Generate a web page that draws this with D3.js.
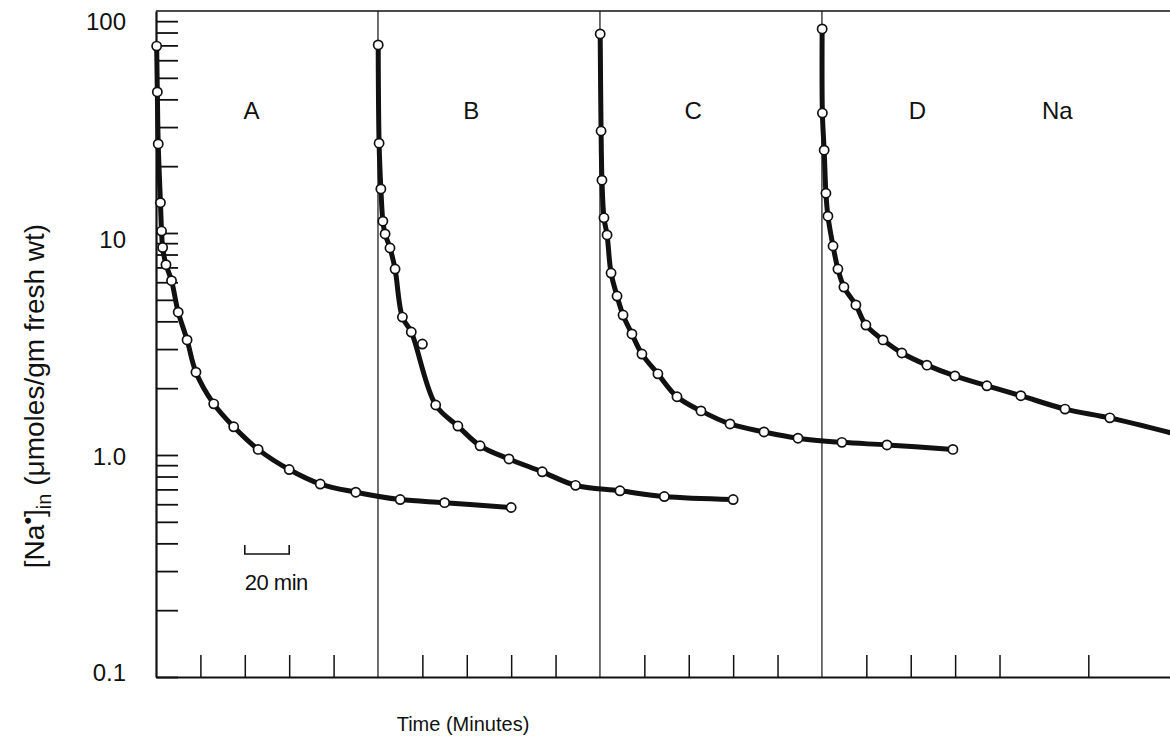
<!DOCTYPE html>
<html>
<head>
<meta charset="utf-8">
<script src="https://cdn.jsdelivr.net/npm/d3@7"></script>
<style>
  body { margin: 0; background: #fff; }
  svg { display: block; }
  text { font-family: "Liberation Sans", Arial, Helvetica, sans-serif; fill: #111; }
</style>
</head>
<body>
<svg id="chart" width="1170" height="744"></svg>
<script>
// Efflux of labelled sodium from tissue: four successive washout runs (A–D),
// internal Na• content on a log scale against time in minutes.

// ---- data -------------------------------------------------------------
const timeA = [0.3, 0.6, 1.0, 2, 2.5, 3, 4.5, 7, 10, 14, 18, 26, 35, 46, 60, 74, 90, 110, 130, 160];
const naA   = [69.5, 43.2, 25.2, 13.7, 10.2, 8.6, 7.2, 6.1, 4.4, 3.3, 2.36, 1.70, 1.34, 1.06, 0.86, 0.74, 0.68, 0.63, 0.61, 0.58];

const timeB = [100.1, 100.5, 101.3, 102.2, 103.2, 105.4, 107.7, 111, 115, 126, 136, 146, 159, 174, 189, 209, 229, 260];
const naB   = [70.3, 25.4, 15.8, 11.3, 9.9, 8.56, 6.88, 4.18, 3.58, 1.68, 1.35, 1.10, 0.96, 0.84, 0.73, 0.69, 0.65, 0.63];
// single reading in run B lying off the fitted curve
const offTimeB = [120];
const offNaB   = [3.16];

const timeC = [200.1, 200.5, 200.9, 201.8, 203.2, 205, 207.7, 210.4, 214.4, 218.9, 226.1, 234.7, 245.5, 258.6, 273.9, 289.2, 309, 329.3, 359];
const naC   = [78.8, 28.8, 17.3, 11.7, 9.8, 6.6, 5.2, 4.27, 3.51, 2.85, 2.32, 1.83, 1.58, 1.38, 1.27, 1.19, 1.14, 1.11, 1.06];

const timeD = [300.1, 300.2, 301, 301.8, 302.7, 305, 307.2, 309.9, 315.3, 319.8, 327.5, 336, 347.3, 359.9, 374.3, 389.6, 409.5, 429.7];
const naD   = [83.0, 34.7, 23.6, 15.1, 11.9, 8.74, 6.88, 5.71, 4.74, 3.85, 3.30, 2.88, 2.54, 2.27, 2.05, 1.85, 1.61, 1.47];
// fitted curve of run D carries on past its last reading
const tailTimeD = [457];
const tailNaD   = [1.26];

const runLabels   = ["A", "B", "C", "D", "Na"];
const yTickLabels = ["100", "10", "1.0", "0.1"];
const yTickValues = [100, 10, 1, 0.1];
const runStarts   = [100, 200, 300];   // minutes at which a new run begins
const scaleBarMinutes = 20;

// ---- layout -------------------------------------------------------------
const svg = d3.select("#chart");
const plotLeft = 156, plotRight = 1170, plotTop = 11, plotBottom = 677;
const x = d3.scaleLinear().domain([0, 456.8]).range([plotLeft, plotRight]);
const y = d3.scaleLog().domain([0.1, 100]).range([plotBottom, plotTop]);

// frame: top rule
svg.append("line")
  .attr("x1", plotLeft).attr("x2", plotRight).attr("y1", plotTop).attr("y2", plotTop)
  .attr("stroke", "#111").attr("stroke-width", 1.6);

// left axis with inward minor ticks
const yAxis = d3.axisRight(y)
  .tickValues(y.ticks().filter(v => v < 100))
  .tickSize(22).tickSizeOuter(0).tickFormat("");
svg.append("g").attr("transform", `translate(${plotLeft},0)`).call(yAxis)
  .call(g => g.selectAll("line").attr("stroke", "#111").attr("stroke-width", 1.8))
  .call(g => g.select(".domain").attr("stroke", "#111").attr("stroke-width", 2.2));

// bottom axis: ticks every 20 min, pointing up
const xTicks = d3.range(20, 440, 20).filter(t => t % 100 !== 0);
const xAxis = d3.axisTop(x).tickValues(xTicks).tickSize(22).tickSizeOuter(0).tickFormat("");
svg.append("g").attr("transform", `translate(0,${plotBottom})`).call(xAxis)
  .call(g => g.selectAll("line").attr("stroke", "#111").attr("stroke-width", 1.5))
  .call(g => g.select(".domain").attr("stroke", "#111").attr("stroke-width", 2.2));

// thin dividers where each run starts
svg.append("g").selectAll("line").data(runStarts).join("line")
  .attr("x1", d => x(d)).attr("x2", d => x(d))
  .attr("y1", plotTop).attr("y2", plotBottom)
  .attr("stroke", "#111").attr("stroke-width", 1.2);

// y tick labels
const labelNudge = [11, 7, 2, -4];
svg.append("g").selectAll("text").data(yTickValues).join("text")
  .attr("x", 126).attr("y", (d, i) => y(d) + labelNudge[i])
  .attr("dy", "0.35em")
  .attr("text-anchor", "end")
  .attr("font-size", 24)
  .text((d, i) => yTickLabels[i]);

// run letters
const labelMinutes = [43, 142, 242, 343, 406];
svg.append("g").selectAll("text").data(runLabels).join("text")
  .attr("x", (d, i) => x(labelMinutes[i]))
  .attr("y", 119)
  .attr("text-anchor", "middle")
  .attr("font-size", 24)
  .text(d => d);

// curves and points
const line = d3.line()
  .x(d => x(d[0])).y(d => y(d[1]))
  .curve(d3.curveCatmullRom.alpha(0.5));

const runs = [
  { t: timeA, v: naA, extraT: [], extraV: [] },
  { t: timeB, v: naB, extraT: [], extraV: [] },
  { t: timeC, v: naC, extraT: [], extraV: [] },
  { t: timeD, v: naD, extraT: tailTimeD, extraV: tailNaD }
];

runs.forEach(r => {
  const pts = r.t.map((t, i) => [t, r.v[i]]);
  const curvePts = pts.concat(r.extraT.map((t, i) => [t, r.extraV[i]]));
  svg.append("path").datum(curvePts)
    .attr("d", line)
    .attr("fill", "none").attr("stroke", "#111")
    .attr("stroke-width", 5).attr("stroke-linejoin", "round").attr("stroke-linecap", "round");
});

const allPts = runs.flatMap(r => r.t.map((t, i) => [t, r.v[i]]))
  .concat(offTimeB.map((t, i) => [t, offNaB[i]]));
svg.append("g").selectAll("circle").data(allPts).join("circle")
  .attr("cx", d => x(d[0])).attr("cy", d => y(d[1]))
  .attr("r", 4.6)
  .attr("fill", "#fff").attr("stroke", "#111").attr("stroke-width", 1.7);

// 20-minute scale bar
const barY = 554, barX0 = x(40);
svg.append("path")
  .attr("d", `M${barX0},${barY - 9}V${barY}H${barX0 + x(scaleBarMinutes) - x(0)}V${barY - 9}`)
  .attr("fill", "none").attr("stroke", "#111").attr("stroke-width", 1.6);
svg.append("text")
  .attr("x", barX0).attr("y", 590)
  .attr("font-size", 22)
  .attr("letter-spacing", -0.5)
  .text(`${scaleBarMinutes} min`);

// axis titles
svg.append("text")
  .attr("x", 463).attr("y", 731)
  .attr("text-anchor", "middle")
  .attr("font-size", 20)
  .text("Time (Minutes)");

const yTitle = svg.append("text")
  .attr("transform", "translate(44,396) rotate(-90)")
  .attr("text-anchor", "middle")
  .attr("font-size", 28);
yTitle.append("tspan").text("[Na");
yTitle.append("tspan").attr("font-size", 22).attr("dy", -9).text("•");
yTitle.append("tspan").attr("dy", 9).text("]");
yTitle.append("tspan").attr("font-size", 20).attr("dy", 7).text("in");
yTitle.append("tspan").attr("dy", -7).text(" (μmoles/gm fresh wt)");
</script>
</body>
</html>
